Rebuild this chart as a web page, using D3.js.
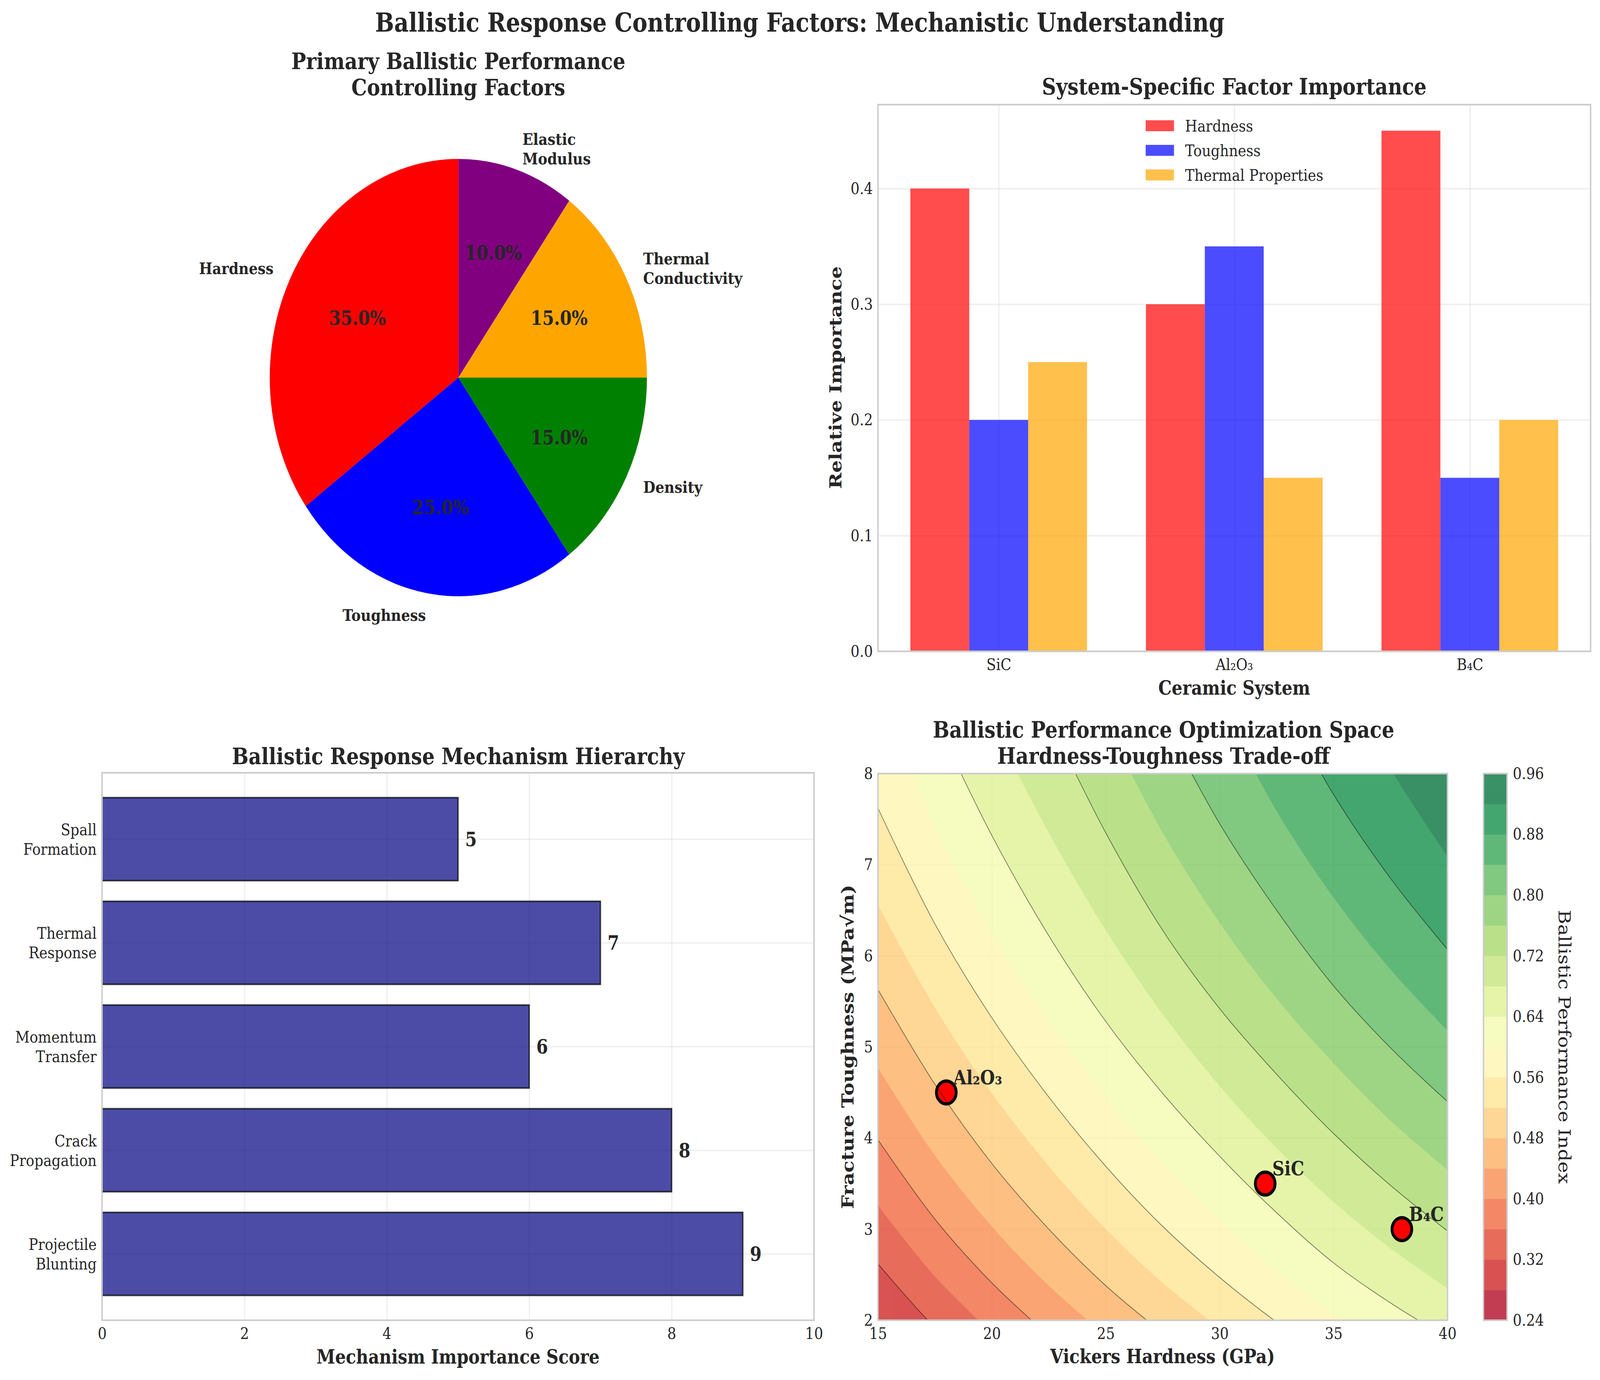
<!DOCTYPE html>
<html>
<head>
<meta charset="utf-8">
<script src="https://cdnjs.cloudflare.com/ajax/libs/d3/7.8.5/d3.min.js"></script>
<style>
html,body{margin:0;padding:0;background:#fff;overflow:hidden}
svg{display:block}
text{font-family:"DejaVu Serif",serif;fill:#262626}
</style>
</head>
<body>
<script>
// ---------- data ----------
const pieLabels = ["Hardness","Toughness","Density","Thermal\nConductivity","Elastic\nModulus"];
const pieValues = [35,25,15,15,10];
const pieColors = ["red","blue","green","orange","purple"];

const systems = ["SiC","Al₂O₃","B₄C"];
const factorNames = ["Hardness","Toughness","Thermal Properties"];
const hardnessImportance = [0.40,0.30,0.45];
const toughnessImportance = [0.20,0.35,0.15];
const thermalImportance = [0.25,0.15,0.20];
const factorColors = ["red","blue","orange"];
const importanceTicks = [0,0.1,0.2,0.3,0.4];

const mechanisms = ["Projectile\nBlunting","Crack\nPropagation","Momentum\nTransfer","Thermal\nResponse","Spall\nFormation"];
const mechanismScores = [9,8,6,7,5];
const scoreTicks = [0,2,4,6,8,10];

const materialNames = ["SiC","Al₂O₃","B₄C"];
const materialHardness = [32,18,38];
const materialToughness = [3.5,4.5,3];
const hardnessTicks = [15,20,25,30,35,40];
const toughnessTicks = [2,3,4,5,6,7,8];

// contour bands and the iso-lines: toughness at each hardness
const bandLevels = [0.24,0.28,0.32,0.36,0.40,0.44,0.48,0.52,0.56,0.60,0.64,0.68,0.72,0.76,0.80,0.84,0.88,0.92,0.96];
const colorbarTicks = [0.24,0.32,0.40,0.48,0.56,0.64,0.72,0.80,0.88,0.96];
const strokedLevels = [0.32,0.40,0.48,0.56,0.64,0.72,0.80,0.88];
const isoHardness = [15,17.5,20,22.5,25,27.5,30,32.5,35,37.5,40];
const iso032 = [2.62,1.92,1.38];
const iso036 = [3.26,2.48,1.86];
const iso040 = [3.98,3.11,2.41,1.83];
const iso044 = [4.77,3.81,3.03,2.38,1.83];
const iso048 = [5.63,4.59,3.72,3.00,2.38,1.86];
const iso052 = [6.56,5.43,4.49,3.69,3.00,2.41,1.91];
const iso056 = [7.62,6.35,5.32,4.45,3.69,3.03,2.47,1.98,1.55];
const iso060 = [8.9,7.42,6.25,5.28,4.45,3.72,3.10,2.54,2.06,1.67];
const iso064 = [null,8.6,7.32,6.22,5.28,4.49,3.80,3.18,2.63,2.19,1.81];
const iso068 = [null,null,8.55,7.35,6.28,5.36,4.57,3.89,3.30,2.79,2.35];
const iso072 = [null,null,null,8.6,7.35,6.28,5.42,4.70,4.05,3.48,2.98];
const iso076 = [null,null,null,null,8.55,7.35,6.36,5.53,4.82,4.19,3.65];
const iso080 = [null,null,null,null,null,8.6,7.45,6.5,5.67,4.99,4.40];
const iso084 = [null,null,null,null,null,null,8.76,7.59,6.64,5.85,5.18];
const iso088 = [null,null,null,null,null,null,null,8.9,7.77,6.85,6.07];
const iso092 = [null,null,null,null,null,null,null,null,9.2,8.05,7.09];
const isoRows = [iso032,iso036,iso040,iso044,iso048,iso052,iso056,iso060,iso064,iso068,iso072,iso076,iso080,iso084,iso088,iso092];
const rdYlGn = ["#a50026","#d73027","#f46d43","#fdae61","#fee08b","#ffffbf","#d9ef8b","#a6d96a","#66bd63","#1a9850","#006837"];

// ---------- page ----------
const W=4751,H=3534,pt=300/72;
const svg=d3.select("body").append("svg")
  .attr("width",window.innerWidth).attr("height",window.innerHeight)
  .attr("viewBox",`0 0 ${W} ${H}`).attr("preserveAspectRatio","none");
svg.append("rect").attr("width",W).attr("height",H).attr("fill","#fff");

const TICK=10*pt, LAB=12*pt, TIT=14*pt, SUP=16*pt;
function label(g,x,y,str,size,weight,opts={}){
  const t=g.append("text").attr("x",x).attr("y",y).attr("font-size",size).attr("font-weight",weight||"normal")
    .attr("text-anchor",opts.anchor||"middle");
  if(opts.rotate!==undefined) t.attr("transform",`rotate(${opts.rotate},${x},${y})`);
  t.text(str);return t;
}
function multiline(g,x,y,lines,size,weight,anchor,lh){
  const t=g.append("text").attr("font-size",size).attr("font-weight",weight).attr("text-anchor",anchor);
  lines.forEach((l,i)=>t.append("tspan").attr("x",x).attr("y",y+i*lh).text(l));
  return t;
}
function spines(g,b){
  g.append("rect").attr("x",b.l).attr("y",b.t).attr("width",b.r-b.l).attr("height",b.b-b.t)
   .attr("fill","none").attr("stroke","#cccccc").attr("stroke-width",pt);
}
function grid(g,b,xs,ys,xv,yv){
  const gg=g.append("g");
  gg.append("g").attr("transform",`translate(0,${b.b})`)
    .call(d3.axisBottom(xs).tickValues(xv).tickSize(-(b.b-b.t)).tickFormat(""))
    .call(s=>s.select(".domain").remove());
  gg.append("g").attr("transform",`translate(${b.l},0)`)
    .call(d3.axisLeft(ys).tickValues(yv).tickSize(-(b.r-b.l)).tickFormat(""))
    .call(s=>s.select(".domain").remove());
  gg.selectAll("line").attr("stroke","#cccccc").attr("stroke-width",pt).attr("stroke-opacity",0.3);
}
function styleAxis(s){
  s.attr("font-family",null).attr("font-size",null);
  s.select(".domain").remove();
  s.selectAll("line").remove();
  s.selectAll("text").attr("font-size",TICK).style("fill","#262626");
}
function xAxis(g,b,xs,vals,fmt){
  g.append("g").attr("transform",`translate(0,${b.b})`)
   .call(d3.axisBottom(xs).tickValues(vals).tickSize(0).tickPadding(18).tickFormat(fmt))
   .call(styleAxis);
}
function yAxis(g,b,ys,vals,fmt){
  g.append("g").attr("transform",`translate(${b.l},0)`)
   .call(d3.axisLeft(ys).tickValues(vals).tickSize(0).tickPadding(15).tickFormat(fmt))
   .call(styleAxis);
}

// suptitle
label(svg,2375,81,"Ballistic Response Controlling Factors: Mechanistic Understanding",SUP,"bold");

// ---------- pie ----------
{
  const g=svg.append("g");
  const cx=1361,cy=967,R=560;
  multiline(g,cx,177,["Primary Ballistic Performance","Controlling Factors"],TIT,"bold","middle",67);
  const arcs=d3.pie().sort(null).startAngle(0).endAngle(-2*Math.PI)(pieValues);
  const arc=d3.arc().innerRadius(0).outerRadius(R);
  const p=g.append("g").attr("transform",`translate(${cx},${cy})`);
  p.selectAll("path").data(arcs).join("path").attr("d",arc).attr("fill",(d,i)=>pieColors[i]);
  const total=d3.sum(pieValues);
  arcs.forEach((d,i)=>{
    const a=(d.startAngle+d.endAngle)/2, sx=Math.sin(a), sy=-Math.cos(a);
    const lines=pieLabels[i].split("\n");
    const lh=10*pt*1.2;
    const x=cx+1.1*R*sx, y=cy+1.1*R*sy;
    const y0=y-(lines.length-1)*lh/2+0.36*TICK;
    multiline(g,x,y0,lines,TICK,"bold",sx<0?"end":"start",lh);
    label(g,cx+0.6*R*sx,cy+0.6*R*sy+0.36*LAB,d3.format(".1f")(d.value/total*100)+"%",LAB,"bold");
  });
}

// ---------- grouped bars ----------
{
  const g=svg.append("g");
  const b={l:2607,r:4723,t:268,b:1668};
  const xs=d3.scaleLinear().domain([-0.5125,2.5125]).range([b.l,b.r]);
  const ys=d3.scaleLinear().domain([0,0.4725]).range([b.b,b.t]);
  grid(g,b,xs,ys,[0,1,2],importanceTicks);
  const series=[hardnessImportance,toughnessImportance,thermalImportance];
  const bw=0.25;
  series.forEach((vals,k)=>{
    g.append("g").selectAll("rect").data(vals).join("rect")
     .attr("x",(d,i)=>xs(i+(k-1)*bw-bw/2))
     .attr("width",xs(bw)-xs(0))
     .attr("y",d=>ys(d)).attr("height",d=>ys(0)-ys(d))
     .attr("fill",factorColors[k]).attr("fill-opacity",0.7);
  });
  spines(g,b);
  xAxis(g,b,xs,[0,1,2],i=>systems[i]);
  yAxis(g,b,ys,importanceTicks,d3.format(".1f"));
  label(g,3665,242,"System-Specific Factor Importance",TIT,"bold");
  label(g,3665,1779,"Ceramic System",LAB,"bold");
  label(g,2498,967,"Relative Importance",LAB,"bold",{rotate:-90});
  factorNames.forEach((n,i)=>{
    const y=322+i*63;
    g.append("rect").attr("x",3402).attr("y",y-14).attr("width",84).attr("height",28)
     .attr("fill",factorColors[i]).attr("fill-opacity",0.7);
    label(g,3519,y+0.36*TICK,n,TICK,"normal",{anchor:"start"});
  });
}

// ---------- horizontal bars ----------
{
  const g=svg.append("g");
  const b={l:303,r:2417,t:1979,b:3381};
  const xs=d3.scaleLinear().domain([0,10]).range([b.l,b.r]);
  const ys=d3.scaleLinear().domain([-0.64,4.64]).range([b.b,b.t]);
  grid(g,b,xs,ys,scoreTicks,d3.range(mechanisms.length));
  g.append("g").selectAll("rect").data(mechanismScores).join("rect")
   .attr("x",xs(0)).attr("width",d=>xs(d)-xs(0))
   .attr("y",(d,i)=>ys(i+0.4)).attr("height",(d,i)=>ys(i-0.4)-ys(i+0.4))
   .attr("fill","navy").attr("fill-opacity",0.7)
   .attr("stroke","black").attr("stroke-opacity",0.7).attr("stroke-width",pt);
  spines(g,b);
  xAxis(g,b,xs,scoreTicks,d3.format("d"));
  const lh=TICK*1.2;
  mechanisms.forEach((m,i)=>{
    const lines=m.split("\n");
    multiline(g,b.l-16,ys(i)-lh/2+0.36*TICK,lines,TICK,"normal","end",lh);
  });
  mechanismScores.forEach((v,i)=>{
    label(g,xs(v+0.1),ys(i)+0.36*LAB,String(v),LAB,"bold",{anchor:"start"});
  });
  label(g,1361,1957,"Ballistic Response Mechanism Hierarchy",TIT,"bold");
  label(g,1360,3492,"Mechanism Importance Score",LAB,"bold");
}

// ---------- contour ----------
{
  const g=svg.append("g");
  const b={l:2607,r:4298,t:1981,b:3381};
  const xs=d3.scaleLinear().domain([15,40]).range([b.l,b.r]);
  const ys=d3.scaleLinear().domain([2,8]).range([b.b,b.t]);
  const cmap=d3.scaleLinear().domain(rdYlGn.map((c,i)=>i/10)).range(rdYlGn);
  const bandColor=i=>cmap((i+0.5)/(bandLevels.length-1));
  grid(g,b,xs,ys,hardnessTicks,toughnessTicks);

  g.append("clipPath").attr("id","cclip").append("rect")
   .attr("x",b.l).attr("y",b.t).attr("width",b.r-b.l).attr("height",b.b-b.t);
  const plot=g.append("g").attr("clip-path","url(#cclip)");
  const fills=plot.append("g").attr("opacity",0.8);
  const markers=plot.append("g");
  const lines=plot.append("g");
  const lineGen=d3.line().x(d=>xs(d[0])).y(d=>ys(d[1])).curve(d3.curveCatmullRom.alpha(0.5));

  fills.append("rect").attr("x",b.l).attr("y",b.t).attr("width",b.r-b.l).attr("height",b.b-b.t)
    .attr("fill",bandColor(1));
  isoRows.forEach((row,k)=>{
    const pts=row.map((t,i)=>t===null?null:[isoHardness[i],t]).filter(Boolean);
    const level=bandLevels[k+2];
    const first=pts[0],last=pts[pts.length-1];
    const closure=`L${xs(41)},${ys(last[1])}L${xs(41)},${ys(9.5)}L${xs(first[0])},${ys(9.5)}Z`;
    fills.append("path").attr("d",lineGen(pts)+closure).attr("fill",bandColor(k+2));
    if(strokedLevels.includes(level)){
      lines.append("path").attr("d",lineGen(pts)).attr("fill","none")
        .attr("stroke","black").attr("stroke-opacity",0.5).attr("stroke-width",0.5*pt);
    }
  });
  markers.selectAll("circle").data(materialNames).join("circle")
   .attr("cx",(d,i)=>xs(materialHardness[i])).attr("cy",(d,i)=>ys(materialToughness[i]))
   .attr("r",29.3).attr("fill","red").attr("stroke","black").attr("stroke-width",2*pt);
  spines(g,b);

  materialNames.forEach((n,i)=>{
    label(g,xs(materialHardness[i])+5*pt,ys(materialToughness[i])-5*pt,n,LAB,"bold",{anchor:"start"});
  });
  xAxis(g,b,xs,hardnessTicks,d3.format("d"));
  yAxis(g,b,ys,toughnessTicks,d3.format("d"));
  multiline(g,3455,1889,["Ballistic Performance Optimization Space","Hardness-Toughness Trade-off"],TIT,"bold","middle",67);
  label(g,3452,3491,"Vickers Hardness (GPa)",LAB,"bold");
  label(g,2534,2681,"Fracture Toughness (MPa√m)",LAB,"bold",{rotate:-90});

  // colorbar
  const cb={l:4405,r:4475,t:1981,b:3381};
  const cs=d3.scaleLinear().domain([0.24,0.96]).range([cb.b,cb.t]);
  const cg=g.append("g").attr("opacity",0.8);
  cg.selectAll("rect").data(bandLevels.slice(0,-1)).join("rect")
    .attr("x",cb.l).attr("width",cb.r-cb.l)
    .attr("y",(d,i)=>cs(bandLevels[i+1])).attr("height",(d,i)=>cs(d)-cs(bandLevels[i+1])+0.5)
    .attr("fill",(d,i)=>bandColor(i));
  spines(g,cb);
  g.append("g").attr("transform",`translate(${cb.r},0)`)
   .call(d3.axisRight(cs).tickValues(colorbarTicks).tickSize(0).tickPadding(17).tickFormat(d3.format(".2f")))
   .call(styleAxis);
  label(g,4628,2681,"Ballistic Performance Index",LAB,"normal",{rotate:90});
}
</script>
</body>
</html>
